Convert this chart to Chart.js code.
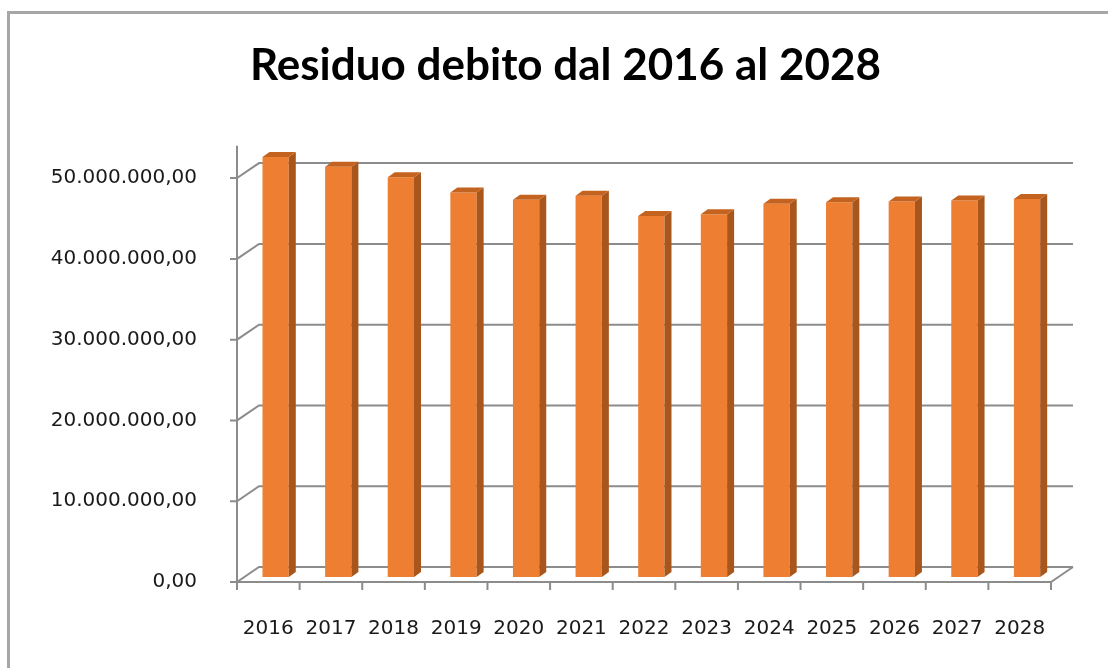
<!DOCTYPE html>
<html>
<head>
<meta charset="utf-8">
<script src="https://cdn.jsdelivr.net/npm/chart.js@4.4.1/dist/chart.umd.min.js"></script>
<style>
  html, body { margin: 0; padding: 0; background: #ffffff; }
  #wrap { width: 1108px; height: 668px; }
</style>
</head>
<body>
<div id="wrap"><canvas id="residuoChart" width="1108" height="668"></canvas></div>
<script>
  const anni = ['2016', '2017', '2018', '2019', '2020', '2021', '2022', '2023', '2024', '2025', '2026', '2027', '2028'];
  const residuo = [52000000, 50800000, 49500000, 47600000, 46700000, 47200000, 44700000, 44900000, 46200000, 46400000, 46500000, 46600000, 46800000];
  const tickValori = [0, 10000000, 20000000, 30000000, 40000000, 50000000];

  // oblique offset of the back wall, as in the Excel 3D view
  const BACK_DX = 22;
  const BACK_DY = -15;
  const BAR_DEPTH = 1 / 3;

  function formatEuro(value) {
    const parts = Math.round(value).toString().replace(/\B(?=(\d{3})+(?!\d))/g, '.');
    return parts + ',00';
  }

  const frame3d = {
    id: 'frame3d',
    afterLayout: function (chart) {
      // title sits centred over the plot + labels, a bit right of the canvas middle
      if (chart.titleBlock) {
        chart.titleBlock.left = 80;
        chart.titleBlock.right = 1051;
      }
    },
    beforeDraw: function (chart) {
      const ctx = chart.ctx;
      ctx.save();
      ctx.strokeStyle = '#a6a6a6';
      ctx.lineWidth = 3;
      ctx.strokeRect(8.5, 12.5, 1300, 1000);
      ctx.restore();
    },
    beforeDatasetsDraw: function (chart) {
      const ctx = chart.ctx;
      const area = chart.chartArea;
      const y = chart.scales.y;
      ctx.save();
      ctx.strokeStyle = '#8c8c8c';
      ctx.lineWidth = 2;
      ctx.beginPath();
      // vertical axis
      ctx.moveTo(area.left, area.bottom);
      ctx.lineTo(area.left, area.top);
      tickValori.forEach(function (v) {
        const py = y.getPixelForValue(v);
        ctx.moveTo(area.left - 7, py);
        ctx.lineTo(area.left, py);
        ctx.lineTo(area.left + BACK_DX, py + BACK_DY);
        ctx.lineTo(area.right + BACK_DX, py + BACK_DY);
      });
      // floor
      ctx.moveTo(area.left, area.bottom);
      ctx.lineTo(area.right, area.bottom);
      ctx.lineTo(area.right + BACK_DX, area.bottom + BACK_DY);
      for (let i = 0; i <= anni.length; i++) {
        const px = area.left + (area.right - area.left) * i / anni.length;
        ctx.moveTo(px, area.bottom);
        ctx.lineTo(px, area.bottom + 8);
      }
      ctx.stroke();
      ctx.restore();

      ctx.save();
      ctx.translate(BACK_DX * BAR_DEPTH, BACK_DY * BAR_DEPTH);
    },
    afterDatasetsDraw: function (chart) {
      const ctx = chart.ctx;
      const meta = chart.getDatasetMeta(0);
      const dx = 7;
      const dy = -5;
      meta.data.forEach(function (bar) {
        const left = bar.x - bar.width / 2;
        const right = bar.x + bar.width / 2;
        const top = bar.y;
        const bottom = bar.base;
        ctx.fillStyle = '#a9561c';
        ctx.beginPath();
        ctx.moveTo(right, top);
        ctx.lineTo(right + dx, top + dy);
        ctx.lineTo(right + dx, bottom + dy);
        ctx.lineTo(right, bottom);
        ctx.closePath();
        ctx.fill();
        ctx.fillStyle = '#c4631f';
        ctx.beginPath();
        ctx.moveTo(left, top);
        ctx.lineTo(right, top);
        ctx.lineTo(right + dx, top + dy);
        ctx.lineTo(left + dx, top + dy);
        ctx.closePath();
        ctx.fill();
      });
      ctx.restore();
    }
  };

  new Chart(document.getElementById('residuoChart'), {
    type: 'bar',
    data: {
      labels: anni,
      datasets: [{
        label: 'Residuo debito',
        data: residuo,
        backgroundColor: '#ee7f32',
        borderWidth: 0,
        barPercentage: 0.42,
        categoryPercentage: 1
      }]
    },
    options: {
      responsive: false,
      animation: false,
      layout: { padding: { left: 0, right: 57, top: 2, bottom: 0 } },
      plugins: {
        legend: { display: false },
        tooltip: { enabled: false },
        title: {
          display: true,
          text: 'Residuo debito dal 2016 al 2028',
          color: '#000000',
          font: { family: 'Lato', size: 44, weight: 'bold', lineHeight: 1.2 },
          padding: { top: 37, bottom: 54 }
        }
      },
      scales: {
        x: {
          grid: { display: false },
          border: { display: false },
          ticks: {
            color: '#1a1a1a',
            autoSkip: false,
            maxRotation: 0,
            padding: 27,
            font: { family: 'DejaVu Sans', size: 20 }
          },
          afterFit: function (scale) { scale.height = 86; }
        },
        y: {
          min: 0,
          max: 54000000,
          grid: { display: false },
          border: { display: false },
          afterBuildTicks: function (scale) {
            scale.ticks = tickValori.map(function (v) { return { value: v }; });
          },
          ticks: {
            color: '#1a1a1a',
            padding: 32,
            font: { family: 'DejaVu Sans', size: 20 },
            callback: function (value) { return formatEuro(value); }
          },
          afterFit: function (scale) { scale.width = 237; }
        }
      }
    },
    plugins: [frame3d]
  });
</script>
</body>
</html>
